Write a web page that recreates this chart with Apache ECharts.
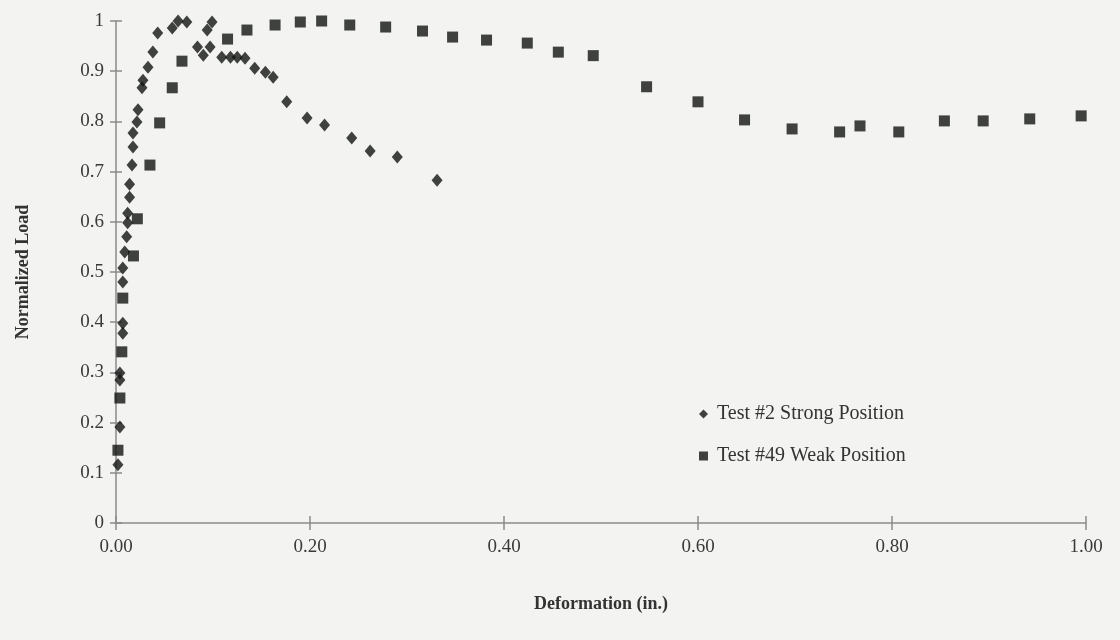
<!DOCTYPE html>
<html><head><meta charset="utf-8">
<script src="https://cdn.jsdelivr.net/npm/echarts@6/dist/echarts.min.js"></script>
<style>html,body{margin:0;padding:0;background:#f3f4f1}#c{width:1120px;height:640px}</style>
</head><body><div id="c"></div>
<script>
const strongX = [0.002,0.004,0.004,0.004,0.007,0.007,0.007,0.007,0.009,0.011,0.012,0.012,0.014,0.014,0.0165,0.0175,0.0175,0.0216,0.0227,0.0268,0.0278,0.033,0.038,0.043,0.058,0.064,0.073,0.084,0.090,0.097,0.094,0.099,0.109,0.118,0.125,0.133,0.143,0.154,0.162,0.176,0.197,0.215,0.243,0.262,0.290,0.331];
const strongY = [0.116,0.191,0.285,0.299,0.378,0.398,0.480,0.508,0.540,0.570,0.598,0.617,0.649,0.675,0.713,0.749,0.777,0.799,0.823,0.867,0.882,0.908,0.938,0.976,0.986,1.0,0.998,0.948,0.932,0.948,0.982,0.998,0.928,0.928,0.928,0.926,0.906,0.898,0.888,0.839,0.807,0.793,0.767,0.741,0.729,0.683];
const weakX = [0.002,0.004,0.006,0.007,0.018,0.022,0.035,0.045,0.058,0.068,0.115,0.135,0.164,0.190,0.212,0.241,0.278,0.316,0.347,0.382,0.424,0.456,0.492,0.547,0.600,0.648,0.697,0.746,0.767,0.807,0.854,0.894,0.942,0.995];
const weakY = [0.145,0.249,0.341,0.448,0.532,0.606,0.713,0.797,0.867,0.920,0.964,0.982,0.992,0.998,1.0,0.992,0.988,0.980,0.968,0.962,0.956,0.938,0.931,0.869,0.839,0.803,0.785,0.779,0.791,0.779,0.801,0.801,0.805,0.811];
const seriesNames = ['Test #2 Strong Position','Test #49 Weak Position'];
const xTitle = 'Deformation (in.)';
const yTitle = 'Normalized Load';

const font = 'Liberation Serif';
const axisCol = '#8a8a8a';
const ink = '#111413';
const chart = echarts.init(document.getElementById('c'));
const pairs = (xs, ys) => xs.map((x, i) => [x, ys[i]]);
const baseX = {type:'value', min:0, max:1, interval:0.2, position:'bottom', splitLine:{show:false}};
const baseY = {type:'value', min:0, max:1, interval:0.1, position:'left', splitLine:{show:false}};
chart.setOption({
  backgroundColor:'#f3f4f1',
  animation:false,
  grid:{left:116, right:34, top:21, bottom:117},
  legend:{
    orient:'vertical', left:694, top:399, itemGap:22, itemWidth:9, itemHeight:9,
    textStyle:{fontFamily:font, fontSize:20, color:'#333', padding:[0,0,0,4]},
    data:[{name:seriesNames[0], icon:'diamond'},{name:seriesNames[1], icon:'rect'}]
  },
  xAxis:[
    Object.assign({}, baseX, {
      name:xTitle, nameLocation:'middle', nameGap:72,
      nameTextStyle:{fontFamily:font, fontSize:18, fontWeight:'bold', color:'#333'},
      axisLine:{lineStyle:{color:axisCol, width:1.5}},
      axisTick:{length:7, lineStyle:{color:axisCol, width:1.5}},
      axisLabel:{fontFamily:font, fontSize:19, color:'#3a3a3a', margin:15, formatter:v=>v.toFixed(2)}
    }),
    Object.assign({}, baseX, {
      axisLine:{show:false}, axisLabel:{show:false},
      axisTick:{inside:true, length:7, lineStyle:{color:axisCol, width:1.5}}
    })
  ],
  yAxis:[
    Object.assign({}, baseY, {
      name:yTitle, nameLocation:'middle', nameGap:84,
      nameTextStyle:{fontFamily:font, fontSize:18, fontWeight:'bold', color:'#333'},
      axisLine:{lineStyle:{color:axisCol, width:1.5}},
      axisTick:{length:6, lineStyle:{color:axisCol, width:1.5}},
      axisLabel:{fontFamily:font, fontSize:19, color:'#3a3a3a', margin:12, formatter:v=>String(Math.round(v*10)/10)}
    }),
    Object.assign({}, baseY, {
      axisLine:{show:false}, axisLabel:{show:false},
      axisTick:{inside:true, length:6, lineStyle:{color:axisCol, width:1.5}}
    })
  ],
  series:[
    {name:seriesNames[0], type:'scatter', symbol:'diamond', symbolSize:[11,13],
     itemStyle:{color:ink}, data:pairs(strongX, strongY)},
    {name:seriesNames[1], type:'scatter', symbol:'rect', symbolSize:11,
     itemStyle:{color:ink}, data:pairs(weakX, weakY)}
  ]
});
</script></body></html>
